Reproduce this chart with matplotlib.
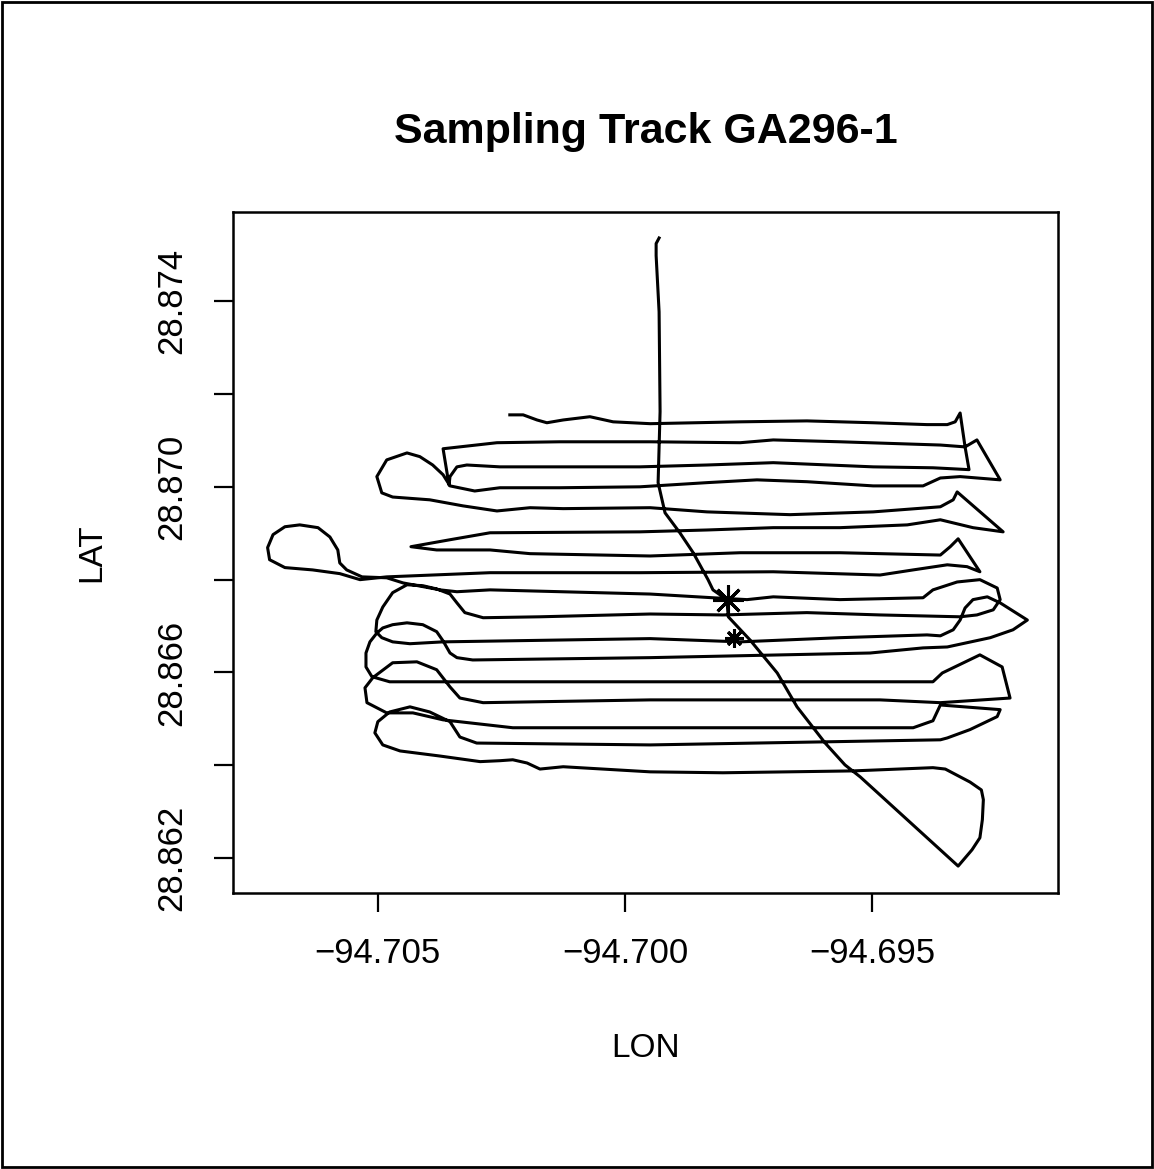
import matplotlib
matplotlib.use("Agg")
import matplotlib.pyplot as plt
from matplotlib.patches import Rectangle

plt.rcParams['font.family'] = ['Liberation Sans', 'DejaVu Sans']

# -------------------------------
# Track data (LON / LAT)
# -------------------------------
# northern survey lines, from the start of the track
north_lon = [-94.70233, -94.70206, -94.70178, -94.70158, -94.70125, -94.70071, -94.70024, -94.69949,
             -94.69767, -94.69632, -94.69498, -94.69389, -94.69348, -94.69332, -94.69322, -94.69312,
             -94.69304, -94.69377, -94.69498, -94.69700, -94.69834, -94.69970, -94.70132, -94.70253,
             -94.70320, -94.70340, -94.70354, -94.70356, -94.70368, -94.70259, -94.70132, -94.69949,
             -94.69767, -94.69700, -94.69565, -94.69362, -94.69312, -94.69288, -94.69241, -94.69322,
             -94.69362, -94.69397, -94.69498, -94.69632, -94.69733, -94.69834, -94.69970, -94.70132,
             -94.70253, -94.70304, -94.70354, -94.70368, -94.70389, -94.70415, -94.70441, -94.70482,
             -94.70502, -94.70492, -94.70470, -94.70395, -94.70328, -94.70259, -94.70192, -94.70125,
             -94.69949, -94.69834, -94.69666, -94.69498, -94.69362, -94.69336, -94.69328, -94.69235,
             -94.69296, -94.69362, -94.69429, -94.69565, -94.69700, -94.69834, -94.69970, -94.70273,
             -94.70354, -94.70433, -94.70381, -94.70273, -94.70192, -94.69949, -94.69767, -94.69565,
             -94.69362, -94.69342, -94.69326, -94.69282, -94.69308, -94.69348, -94.69417, -94.69484,
             -94.69700, -94.69970, -94.70273, -94.70482, -94.70536]
north_lat = [28.87155, 28.87155, 28.87144, 28.87138, 28.87144, 28.87151, 28.87140, 28.87136,
             28.87140, 28.87142, 28.87138, 28.87134, 28.87134, 28.87140, 28.87159, 28.87086,
             28.87037, 28.87041, 28.87043, 28.87052, 28.87047, 28.87043, 28.87043, 28.87043,
             28.87047, 28.87043, 28.87022, 28.87004, 28.87082, 28.87095, 28.87097, 28.87097,
             28.87095, 28.87101, 28.87097, 28.87090, 28.87086, 28.87101, 28.87015, 28.87022,
             28.87019, 28.87002, 28.87002, 28.87011, 28.87015, 28.87009, 28.87000, 28.86998,
             28.86998, 28.86991, 28.87002, 28.87026, 28.87047, 28.87065, 28.87073, 28.87058,
             28.87022, 28.86987, 28.86978, 28.86972, 28.86959, 28.86948, 28.86955, 28.86953,
             28.86955, 28.86946, 28.86940, 28.86946, 28.86957, 28.86972, 28.86989, 28.86903,
             28.86912, 28.86929, 28.86918, 28.86912, 28.86912, 28.86907, 28.86903, 28.86901,
             28.86886, 28.86871, 28.86864, 28.86864, 28.86856, 28.86851, 28.86858, 28.86858,
             28.86853, 28.86871, 28.86888, 28.86817, 28.86828, 28.86832, 28.86821, 28.86810,
             28.86817, 28.86815, 28.86815, 28.86806, 28.86800]

# middle survey lines
middle_lon = [-94.70577, -94.70632, -94.70688, -94.70719, -94.70723, -94.70712, -94.70688, -94.70658,
              -94.70621, -94.70597, -94.70581, -94.70577, -94.70563, -94.70532, -94.70482, -94.70449,
              -94.70409, -94.70374, -94.70340, -94.70273, -94.69949, -94.69822, -94.69753, -94.69700,
              -94.69565, -94.69397, -94.69377, -94.69328, -94.69282, -94.69247, -94.69241, -94.69255,
              -94.69288, -94.69322, -94.69484, -94.69632, -94.69802, -94.69949, -94.70172, -94.70287,
              -94.70324, -94.70340, -94.70354, -94.70381, -94.70409, -94.70441, -94.70470, -94.70490,
              -94.70502, -94.70504, -94.70492, -94.70470, -94.70435, -94.70368, -94.69949, -94.69767,
              -94.69565, -94.69389, -94.69362, -94.69336, -94.69322, -94.69312, -94.69296, -94.69267,
              -94.69241, -94.69186, -94.69215, -94.69261, -94.69348, -94.69397, -94.69504, -94.69949,
              -94.70308, -94.70340, -94.70354, -94.70368, -94.70381, -94.70409, -94.70441, -94.70470,
              -94.70490, -94.70502, -94.70516, -94.70524, -94.70524, -94.70512, -94.70476]
middle_lat = [28.86813, 28.86821, 28.86826, 28.86843, 28.86869, 28.86897, 28.86914, 28.86918,
              28.86912, 28.86892, 28.86864, 28.86836, 28.86821, 28.86806, 28.86804, 28.86793,
              28.86785, 28.86778, 28.86774, 28.86778, 28.86769, 28.86761, 28.86757, 28.86763,
              28.86757, 28.86761, 28.86778, 28.86795, 28.86800, 28.86782, 28.86757, 28.86735,
              28.86724, 28.86720, 28.86724, 28.86729, 28.86724, 28.86726, 28.86720, 28.86718,
              28.86729, 28.86750, 28.86769, 28.86780, 28.86787, 28.86789, 28.86772, 28.86741,
              28.86713, 28.86688, 28.86675, 28.86666, 28.86662, 28.86666, 28.86673, 28.86666,
              28.86675, 28.86681, 28.86679, 28.86692, 28.86713, 28.86739, 28.86757, 28.86763,
              28.86750, 28.86713, 28.86692, 28.86675, 28.86655, 28.86653, 28.86642, 28.86632,
              28.86627, 28.86632, 28.86642, 28.86668, 28.86688, 28.86703, 28.86707, 28.86703,
              28.86696, 28.86685, 28.86666, 28.86642, 28.86612, 28.86591, 28.86580]

# southern survey lines, ending at the bottom of the transit
south_lon = [-94.69949, -94.69377, -94.69358, -94.69282, -94.69237, -94.69221, -94.69362, -94.69484,
             -94.69949, -94.70287, -94.70334, -94.70354, -94.70381, -94.70421, -94.70470, -94.70510,
             -94.70526, -94.70522, -94.70482, -94.70429, -94.70368, -94.70227, -94.69949, -94.69417,
             -94.69377, -94.69362, -94.69241, -94.69247, -94.69302, -94.69348, -94.69362, -94.69949,
             -94.70300, -94.70334, -94.70354, -94.70395, -94.70435, -94.70476, -94.70500, -94.70506,
             -94.70490, -94.70455, -94.70374, -94.70293, -94.70253, -94.70227, -94.70198, -94.70172,
             -94.70125, -94.69949, -94.69802, -94.69539, -94.69377, -94.69352, -94.69302, -94.69279,
             -94.69275, -94.69277, -94.69282, -94.69298, -94.69326]
south_lat = [28.86580, 28.86580, 28.86599, 28.86638, 28.86612, 28.86545, 28.86535, 28.86541,
             28.86541, 28.86535, 28.86545, 28.86569, 28.86606, 28.86623, 28.86621, 28.86589,
             28.86567, 28.86535, 28.86513, 28.86513, 28.86498, 28.86481, 28.86481, 28.86481,
             28.86496, 28.86530, 28.86520, 28.86505, 28.86477, 28.86459, 28.86455, 28.86444,
             28.86448, 28.86461, 28.86494, 28.86515, 28.86526, 28.86515, 28.86494, 28.86470,
             28.86444, 28.86431, 28.86420, 28.86408, 28.86410, 28.86412, 28.86405, 28.86392,
             28.86397, 28.86386, 28.86384, 28.86388, 28.86395, 28.86392, 28.86364, 28.86347,
             28.86326, 28.86283, 28.86244, 28.86218, 28.86183]

# transit line, bottom right back up to the top
transit_lon = [-94.69524, -94.69555, -94.69595, -94.69652, -94.69692, -94.69747, -94.69791, -94.69794,
               -94.69822, -94.69832, -94.69862, -94.69889, -94.69919, -94.69933, -94.69929, -94.69931,
               -94.69937, -94.69937, -94.69931]
transit_lat = [28.86375, 28.86401, 28.86448, 28.86526, 28.86599, 28.86670, 28.86720, 28.86757,
               28.86778, 28.86800, 28.86858, 28.86901, 28.86944, 28.87009, 28.87162, 28.87377,
               28.87498, 28.87524, 28.87536]

# sampling stations (asterisks)
station_lon = [-94.69791, -94.69779]
station_lat = [28.86757, 28.86675]
station_size = [22, 13]

x_ticks = [-94.705, -94.700, -94.695]
x_labels = ["\u221294.705", "\u221294.700", "\u221294.695"]
y_ticks = [28.862, 28.864, 28.866, 28.868, 28.870, 28.872, 28.874]
y_labels = ["28.862", "", "28.866", "", "28.870", "", "28.874"]

# -------------------------------
# Plot
# -------------------------------
fig = plt.figure(figsize=(11.54, 11.69), dpi=100)
ax = fig.add_axes([233 / 1154, 1 - 893 / 1169, 825 / 1154, 681 / 1169])

lon = north_lon + middle_lon + south_lon + transit_lon
lat = north_lat + middle_lat + south_lat + transit_lat
ax.plot(lon, lat, color="black", lw=2.2, solid_joinstyle="round")

for sx, sy, ms in zip(station_lon, station_lat, station_size):
    ax.plot(sx, sy, marker=(8, 2, 0), markersize=ms, markeredgewidth=2.2,
            color="black", linestyle="none")

ax.set_xlim(-94.70793, -94.69124)
ax.set_ylim(28.86125, 28.87592)

ax.set_xticks(x_ticks)
ax.set_xticklabels(x_labels)
ax.set_yticks(y_ticks)
ax.set_yticklabels(y_labels, rotation=90, va="center")
ax.tick_params(axis="both", direction="out", length=14, width=1.6, labelsize=25, pad=18)
for side in ax.spines.values():
    side.set_linewidth(1.8)

ax.set_xlabel("LON", fontsize=24, labelpad=45)
ax.set_ylabel("LAT", fontsize=24, labelpad=35)
ax.set_title("Sampling Track GA296-1", fontsize=31, fontweight="bold", pad=50)

fig.patches.append(Rectangle((0.002, 0.002), 0.996, 0.996, transform=fig.transFigure,
                             fill=False, edgecolor="black", lw=2))

fig.savefig("out.png", dpi=100)
